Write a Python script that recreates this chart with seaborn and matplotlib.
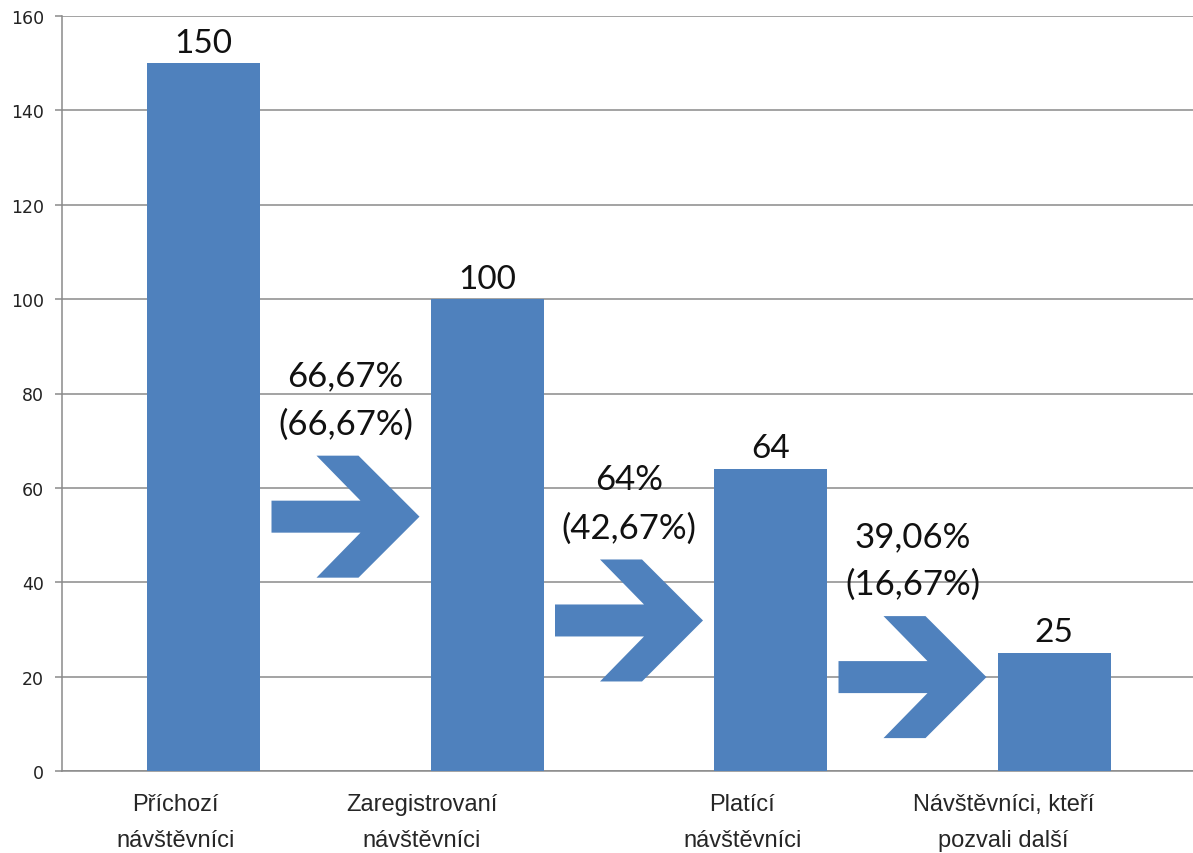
import matplotlib
matplotlib.use("Agg")
import matplotlib.pyplot as plt
from matplotlib.patches import Polygon
import seaborn as sns
import pandas as pd

# ---- data ----
categories = ["Příchozí\nnávštěvníci", "Zaregistrovaní\nnávštěvníci",
              "Platící\nnávštěvníci", "Návštěvníci, kteří\npozvali další"]
values = [150, 100, 64, 25]
y_ticks = [0, 20, 40, 60, 80, 100, 120, 140, 160]
arrow_levels = [53.9, 31.9, 19.9]          # vertical centre of each arrow
label_shift = [-0.10, -0.23, -0.10, -0.18]  # category label horizontal shift

BAR = "#4F81BD"
GRID = "#8a8a8a"

sns.set_theme(style="white")
plt.rcParams["font.family"] = ["DejaVu Sans"]

W, H = 1193, 854
fig = plt.figure(figsize=(W / 100, H / 100), dpi=100)
ax_l, ax_r, ax_t, ax_b = 62, 1196, 17, 772
ax = fig.add_axes([ax_l / W, (H - ax_b) / H, (ax_r - ax_l) / W, (ax_b - ax_t) / H])

df = pd.DataFrame({"cat": categories, "val": values})
sns.barplot(data=df, x="cat", y="val", color=BAR, saturation=1, width=0.4, ax=ax,
            zorder=3, edgecolor="none", linewidth=0)

ax.set_xlim(-0.5, 3.5)
ax.set_ylim(0, 160)
ax.set_yticks(y_ticks)
ax.set_yticklabels([str(t) for t in y_ticks], fontsize=12.5, color="#222222",
                   family="DejaVu Sans")
ax.yaxis.grid(True, color=GRID, linewidth=1.1, zorder=0)
ax.set_axisbelow(True)
ax.tick_params(axis="y", length=5, width=1.1, color=GRID, pad=8, left=True)
ax.tick_params(axis="x", length=0, labelbottom=False)
ax.set_xlabel("")
ax.set_ylabel("")
for s in ["top", "right"]:
    ax.spines[s].set_visible(False)
for s in ["left", "bottom"]:
    ax.spines[s].set_color(GRID)
    ax.spines[s].set_linewidth(1.1)

# pixel -> data scale
px_x = (ax_r - ax_l) / 4.0
px_y = (ax_b - ax_t) / 160.0

# value labels
for i, v in enumerate(values):
    ax.annotate(str(v), (i, v), xytext=(0, 4), textcoords="offset points",
                ha="center", va="bottom", fontsize=24, family="Lato", color="#111111")

# category labels
for i, c in enumerate(categories):
    ax.annotate(c, (i + label_shift[i], 0), xytext=(0, -16), textcoords="offset points",
                ha="center", va="top", fontsize=17, linespacing=1.8,
                family="Liberation Sans", color="#262626",
                annotation_clip=False)

def fmt(p):
    s = f"{p:.2f}".rstrip("0").rstrip(".")
    return s.replace(".", ",") + "%"

# arrows + conversion labels
shape = [(0, 16), (89, 16), (45, 61), (87, 61), (148, 0), (87, -61), (45, -61),
         (89, -16), (0, -16)]
for i, yc in enumerate(arrow_levels):
    x0 = i + 0.5 - 148 / 2 / px_x
    pts = [(x0 + dx / px_x, yc + dy / px_y) for dx, dy in shape]
    ax.add_patch(Polygon(pts, closed=True, facecolor=BAR, edgecolor="none", zorder=4))
    step = values[i + 1] / values[i] * 100
    total = values[i + 1] / values[0] * 100
    xc = i + 0.5
    top = yc + 61 / px_y
    ax.annotate(f"({fmt(total)})", (xc, top), xytext=(0, 22 / 1.389),
                textcoords="offset points", ha="center", va="baseline",
                fontsize=25, family="Lato", color="#111111")
    ax.annotate(fmt(step), (xc, top), xytext=(0, 70 / 1.389),
                textcoords="offset points", ha="center", va="baseline",
                fontsize=25, family="Lato", color="#111111")

fig.savefig("out.png", dpi=100)
